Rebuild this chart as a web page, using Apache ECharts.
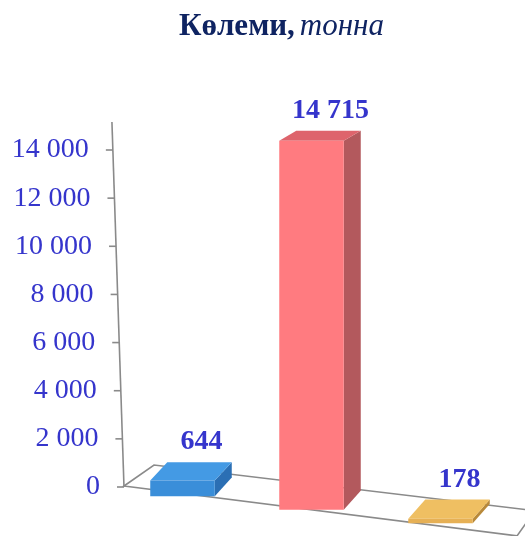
<!DOCTYPE html>
<html>
<head>
<meta charset="utf-8">
<script src="https://cdn.jsdelivr.net/npm/echarts@6/dist/echarts.min.js"></script>
<style>
html,body{margin:0;padding:0;background:#fff;}
#chart{width:525px;height:536px;}
</style>
</head>
<body>
<div id="chart"></div>
<script>
// ---- data ----
const categories = ['1', '2', '3'];
const values = [644, 14715, 178];
const yTicks = [0, 2000, 4000, 6000, 8000, 10000, 12000, 14000];
const titleBold = 'Көлеми,';
const titleItalic = 'тонна';

// ---- styles ----
const faceColors = [
  { front: '#3a8ed9', top: '#449ae4', side: '#2b6fb4' },
  { front: '#ff7b80', top: '#de646c', side: '#b3595d' },
  { front: '#e6b055', top: '#efbf62', side: '#b8893a' }
];
const labelColor = '#3535cc';
const serif = '"Liberation Serif", "Times New Roman", serif';

const SLOPE = 0.105;   // floor perspective: base drop per px to the right
const X0 = 95;
const K = 0.000194;    // perspective height growth
const DX = 17;

function fmt(v) {
  return String(v).replace(/\B(?=(\d{3})+(?!\d))/g, ' ');
}

const chart = echarts.init(document.getElementById('chart'));

const rich = {};
yTicks.forEach((t, k) => {
  rich['t' + k] = { fontFamily: serif, fontSize: 28, color: labelColor, padding: [0, k * 1.6, 0, 0] };
});

function axisX(cs, y0, y) {
  return cs.x + 6 - (y0 - y) * (12 / 363);
}

function renderDecor(params, api) {
  const cs = params.coordSys;
  const y0 = api.coord([0, 0])[1];
  const yTop = cs.y - 28;
  const children = [];
  const lineStyle = { stroke: '#8a8a8a', lineWidth: 1.6, fill: null };
  // floor
  const FL = [axisX(cs, y0, y0), y0 - 1];
  const BL = [FL[0] + 30, FL[1] - 21];
  const FR = [cs.x + cs.width + 12, FL[1] + (cs.x + cs.width + 12 - FL[0]) * 0.127];
  const t = 1.8;
  const BR = [FR[0] + 10 * t, FR[1] - 14 * t];
  children.push({ type: 'polygon', shape: { points: [FL, BL, BR, FR] }, style: lineStyle, z2: 0 });
  // axis line
  children.push({ type: 'line', shape: { x1: axisX(cs, y0, yTop), y1: yTop, x2: axisX(cs, y0, y0), y2: y0 }, style: { stroke: '#8a8a8a', lineWidth: 1.6 } });
  // ticks
  yTicks.forEach(v => {
    const y = api.coord([0, v])[1];
    const ax = axisX(cs, y0, y);
    children.push({ type: 'line', shape: { x1: ax - 7, y1: y, x2: ax, y2: y }, style: { stroke: '#8a8a8a', lineWidth: 1.6 } });
  });
  return { type: 'group', children: children };
}

function renderBar(params, api) {
  const i = api.value(0);
  const v = api.value(1);
  const top = api.coord([i, v]);
  const base = api.coord([i, 0]);
  const bw = api.size([1, 0])[0] * 0.5;
  const cx = top[0];
  const yB = base[1] + SLOPE * (cx - X0);
  const yT = yB - (base[1] - top[1]) * (1 + K * (cx - X0));
  const dyT = -10 - 0.0243 * (yT - 142);
  const dyB = -10 - 0.0243 * (yB - 142);
  const xL = cx - bw / 2, xR = cx + bw / 2;
  const c = faceColors[params.dataIndex];
  return {
    type: 'group',
    children: [
      { type: 'polygon', shape: { points: [[xR, yT], [xR + DX, yT + dyT], [xR + DX, yB + dyB], [xR, yB]] }, style: { fill: c.side } },
      { type: 'polygon', shape: { points: [[xL, yT], [xR, yT], [xR + DX, yT + dyT], [xL + DX, yT + dyT]] }, style: { fill: c.top } },
      { type: 'rect', shape: { x: xL, y: yT, width: bw, height: yB - yT }, style: { fill: c.front } },
      { type: 'text', style: { text: fmt(v), x: cx + DX + 2, y: yT + dyT - 20, align: 'center', verticalAlign: 'middle',
          font: 'bold 28px ' + serif, fill: labelColor } }
    ]
  };
}

chart.setOption({
  animation: false,
  title: {
    text: '{b|' + titleBold + '} {i|' + titleItalic + '}',
    left: 174, top: 6,
    textStyle: {
      rich: {
        b: { fontFamily: serif, fontWeight: 'bold', fontSize: 31, color: '#0f2462' },
        i: { fontFamily: serif, fontStyle: 'italic', fontWeight: 'normal', fontSize: 31, color: '#0f2462' }
      }
    }
  },
  grid: { left: 118, right: 20, top: 150, bottom: 49 },
  xAxis: { type: 'category', data: categories, show: false },
  yAxis: {
    type: 'value', min: 0, max: 14000, interval: 2000,
    axisLine: { show: false }, axisTick: { show: false }, splitLine: { show: false },
    axisLabel: {
      margin: 18,
      formatter: function (v) { const k = yTicks.indexOf(v); return '{t' + k + '|' + fmt(v) + '}'; },
      rich: rich
    }
  },
  series: [
    { type: 'custom', renderItem: renderDecor, data: [[0, 0]], silent: true, z: 1 },
    { type: 'custom', renderItem: renderBar, data: values.map((v, i) => [i, v]), z: 2, clip: false }
  ]
});
</script>
</body>
</html>
